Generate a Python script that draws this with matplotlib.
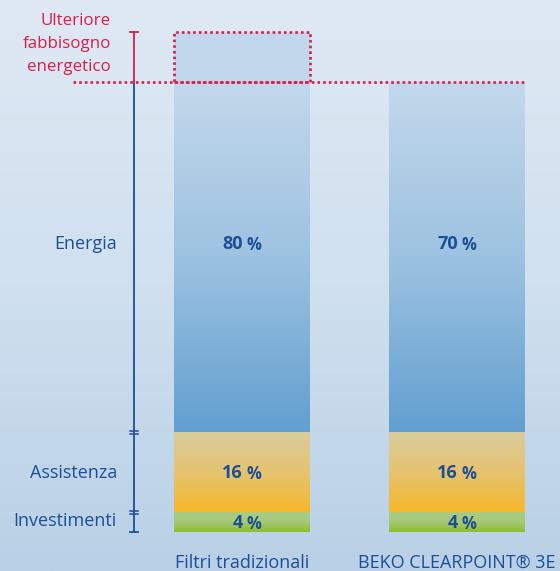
import numpy as np
import matplotlib
matplotlib.use("Agg")
import matplotlib.pyplot as plt
import matplotlib.transforms as mtransforms
from matplotlib.colors import LinearSegmentedColormap
from matplotlib.patches import Rectangle

plt.rcParams['font.family'] = ['Open Sans', 'DejaVu Sans']

# ---- data ----
categories = ["Filtri tradizionali", "BEKO CLEARPOINT® 3E"]
investimenti = [4, 4]
assistenza = [16, 16]
energia = [80, 70]
segment_labels = ["Investimenti", "Assistenza", "Energia"]
extra_label = "Ulteriore\nfabbisogno\nenergetico"

BLUE_TXT = "#1c4f96"
RED = "#d81f4a"
DOT = (0, (1.0, 1.15))

fig = plt.figure(figsize=(5.6, 5.71), dpi=100)
ax = fig.add_axes([0, 0, 1, 1])
xmin, xmax = -242 / 215, 1 + 103 / 215
ymin, ymax = -39 / 5, 532 / 5
ax.set_xlim(xmin, xmax)
ax.set_ylim(ymin, ymax)
ax.axis('off')

# background gradient
bg = LinearSegmentedColormap.from_list("bg", ["#b9d0e6", "#d0e0ef", "#dfe9f4"])
grad = np.linspace(0, 1, 256).reshape(-1, 1)
ax.imshow(grad, cmap=bg, extent=[xmin, xmax, ymin, ymax], origin='lower',
          aspect='auto', zorder=0)

x = np.arange(len(categories))
width = 136 / 215
ref_top = min(i + a + e for i, a, e in zip(investimenti, assistenza, energia))

cm_blue = LinearSegmentedColormap.from_list("b", ["#629fcf", "#9dc2e1", "#c3d8ec"])
cm_orng = LinearSegmentedColormap.from_list("o", ["#f5b82a", "#e6c370", "#d9cc9c"])
cm_gren = LinearSegmentedColormap.from_list("g", ["#8cbf2a", "#a5c978", "#aacb86"])


def grad_bar(xc, bottom, height, cmap, z=2):
    bars = ax.bar([xc], [height], bottom=[bottom], width=width, color='none',
                  edgecolor='none', zorder=z)
    p = bars[0]
    im = ax.imshow(grad, cmap=cmap, origin='lower', aspect='auto',
                   extent=[xc - width / 2, xc + width / 2, bottom, bottom + height],
                   zorder=z)
    im.set_clip_path(p)


for i in range(len(categories)):
    b0 = 0
    grad_bar(x[i], b0, investimenti[i], cm_gren)
    b1 = investimenti[i]
    grad_bar(x[i], b1, assistenza[i], cm_orng)
    b2 = b1 + assistenza[i]
    e_vis = min(energia[i], ref_top - b2)
    grad_bar(x[i], b2, e_vis, cm_blue)
    if energia[i] > e_vis:
        ax.add_patch(Rectangle((x[i] - width / 2, ref_top), width, energia[i] - e_vis,
                               facecolor="#c2d7eb", edgecolor=RED, linewidth=1.9,
                               linestyle=DOT, zorder=3))

# dotted reference line
ax.plot([-169 / 215, x[-1] + width / 2], [ref_top, ref_top],
        color=RED, linewidth=1.9, linestyle=DOT, zorder=4)


# percent labels
def pct_label(xc, yc, val):
    ax.text(xc + 0.003, yc, f"{val}", ha='right', va='center', fontsize=13,
            fontweight='bold', color=BLUE_TXT, zorder=5)
    tr = mtransforms.offset_copy(ax.transData, fig=fig, x=2.5, y=-0.5, units='points')
    ax.text(xc + 0.003, yc, "%", ha='left', va='center', fontsize=12,
            fontweight='bold', color=BLUE_TXT, zorder=5, transform=tr)


for i in range(len(categories)):
    pct_label(x[i], investimenti[i] / 2 - 0.3, investimenti[i])
    pct_label(x[i], investimenti[i] + assistenza[i] / 2 - 0.2, assistenza[i])
    pct_label(x[i], 57.6, energia[i])

# category labels
for i, c in enumerate(categories):
    ax.text(x[i], -6.2, c, ha='center', va='center', fontsize=13, color=BLUE_TXT)

# bracket axis
bx = -108 / 215
cap = 0.018
tops = [investimenti[0], investimenti[0] + assistenza[0]]
ax.plot([bx, bx], [0, ref_top], color=BLUE_TXT, lw=1.3, zorder=4)
ax.plot([bx - cap, bx + cap], [0, 0], color=BLUE_TXT, lw=1.3, zorder=4)
for t in tops:
    for d in (-0.3, 0.3):
        ax.plot([bx - cap, bx + cap], [t + d, t + d], color=BLUE_TXT, lw=1.1, zorder=4)
ax.plot([bx, bx], [ref_top, 100], color=RED, lw=1.3, zorder=4)
ax.plot([bx - cap, bx + cap], [100, 100], color=RED, lw=1.3, zorder=4)

lx = -125 / 215
ax.text(lx, investimenti[0] / 2 + 0.3, segment_labels[0], ha='right', va='center',
        fontsize=13, color=BLUE_TXT)
ax.text(lx, investimenti[0] + assistenza[0] / 2 - 0.2, segment_labels[1], ha='right',
        va='center', fontsize=13, color=BLUE_TXT)
ax.text(lx, 57.6, segment_labels[2], ha='right', va='center', fontsize=13, color=BLUE_TXT)
ax.text(-131 / 215, 97.6, extra_label, ha='right', va='center', fontsize=12.2,
        color=RED, linespacing=1.6)

fig.savefig("out.png", dpi=100)
